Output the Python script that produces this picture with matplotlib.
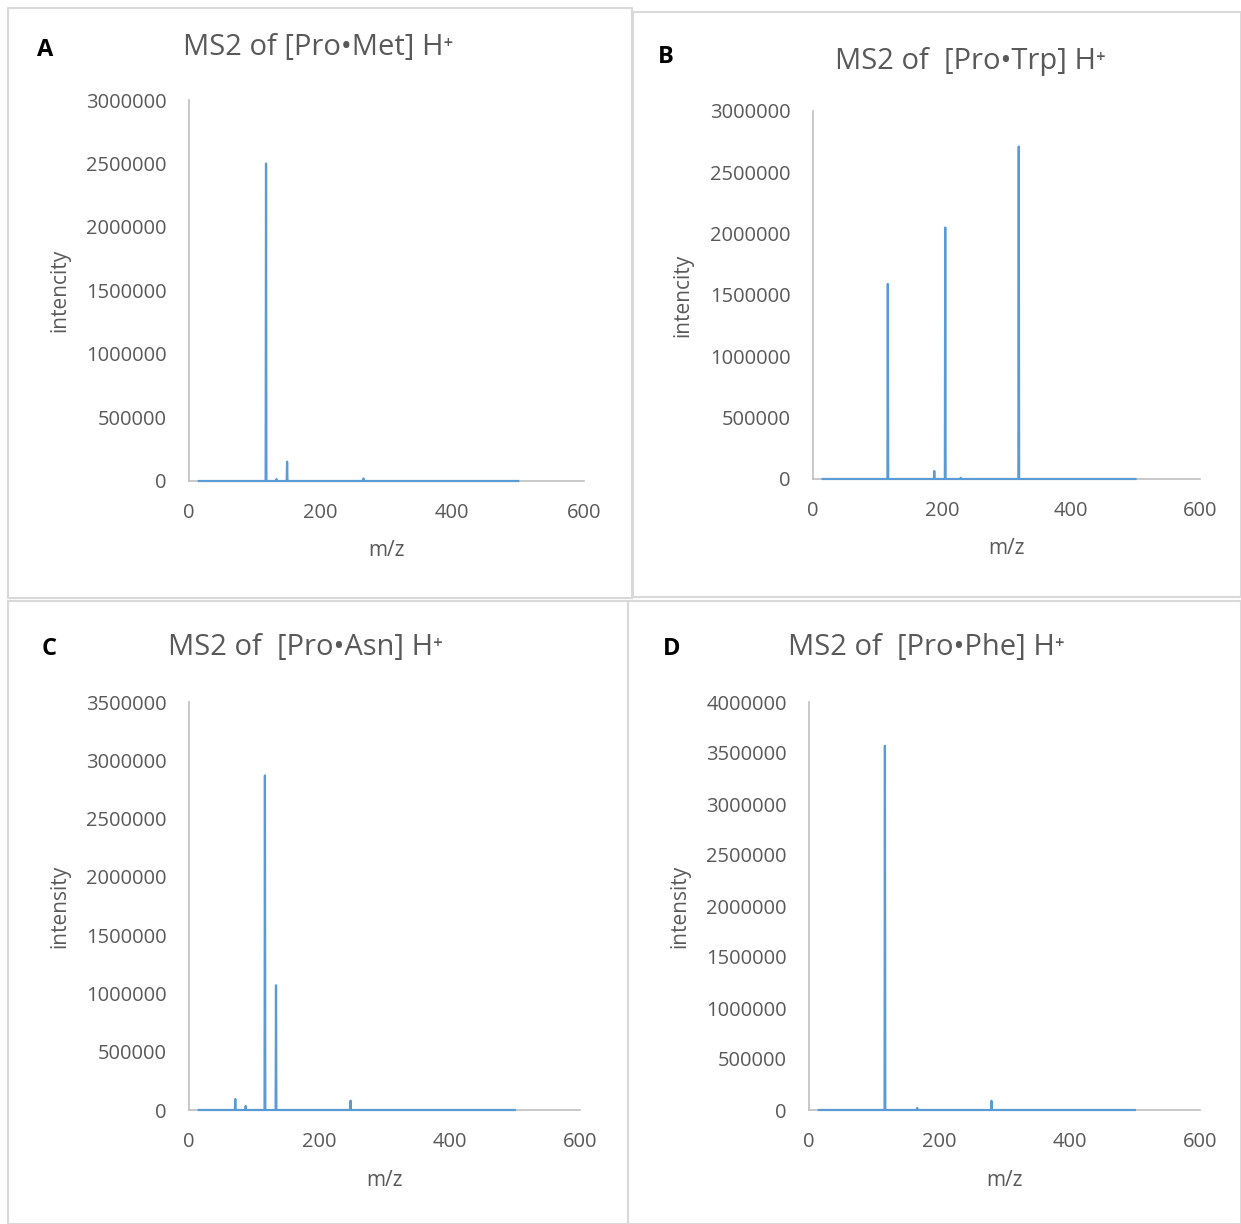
import numpy as np
import matplotlib.pyplot as plt
from matplotlib.patches import Rectangle
from matplotlib.ticker import FuncFormatter

# peak lists (m/z, intensity)
mz_a = [117, 133, 149, 265]
int_a = [2500000, 15000, 152000, 20000]
mz_b = [116, 188, 205, 229, 319]
int_b = [1590000, 65000, 2050000, 10000, 2710000]
mz_c = [71, 87, 116.5, 133.5, 248]
int_c = [94000, 34000, 2870000, 1070000, 80000]
mz_d = [116.5, 166, 280]
int_d = [3570000, 20000, 90000]
scan_range = [15, 500]

titles = ['MS2 of [Pro\u2022Met] H\u207a', 'MS2 of  [Pro\u2022Trp] H\u207a',
          'MS2 of  [Pro\u2022Asn] H\u207a', 'MS2 of  [Pro\u2022Phe] H\u207a']
letters = ['A', 'B', 'C', 'D']
ylabels = ['intencity', 'intencity', 'intensity', 'intensity']
ymax = [3000000, 3000000, 3500000, 4000000]
ystep = [500000, 500000, 500000, 500000]

blue = '#5B9BD5'
grey_txt = '#595959'
fonts = ['Open Sans', 'DejaVu Sans']
plt.rcParams['font.family'] = fonts

W, H = 1241, 1224
fig = plt.figure(figsize=(W / 100, H / 100), dpi=100)


def stick(mz, inten):
    x = [scan_range[0]]
    y = [0]
    for m, h in sorted(zip(mz, inten)):
        x += [m - 0.6, m, m + 0.6]
        y += [0, h, 0]
    x.append(scan_range[1])
    y.append(0)
    return x, y


def px_axes(l, r, t, b):
    return fig.add_axes([l / W, 1 - b / H, (r - l) / W, (b - t) / H])


# panel frames (px): left, top, right, bottom
frames = [(8, 8, 632, 598), (633, 12, 1241, 597), (8, 601, 628, 1224), (628, 601, 1241, 1224)]
for l, t, r, b in frames:
    fig.patches.append(Rectangle((l / W, 1 - b / H), (r - l) / W, (b - t) / H,
                                 transform=fig.transFigure, fill=False,
                                 edgecolor='#D9D9D9', lw=1.5))

boxes = [(189, 584, 100, 481), (813, 1200, 111, 479), (189, 580, 702, 1110), (809, 1200, 702, 1110)]
data = [(mz_a, int_a), (mz_b, int_b), (mz_c, int_c), (mz_d, int_d)]
title_pos = [(183, 48), (835, 62), (168, 648), (788, 648)]
letter_pos = [(45, 50), (666, 57), (49, 649), (672, 649)]
ylab_x = [70, 693, 70, 690]
xlab_y = [550, 548, 1180, 1180]

for i in range(4):
    ax = px_axes(*boxes[i])
    x, y = stick(*data[i])
    ax.plot(x, y, color=blue, lw=1.6, clip_on=False, zorder=3)
    ax.set_xlim(0, 600)
    ax.set_ylim(0, ymax[i])
    ax.set_xticks([0, 200, 400, 600])
    ax.set_yticks(np.arange(0, ymax[i] + 1, ystep[i]))
    ax.yaxis.set_major_formatter(FuncFormatter(lambda v, p: '%d' % v))
    ax.tick_params(length=0, labelsize=14.5, labelcolor=grey_txt, pad=16)
    for s in ['top', 'right']:
        ax.spines[s].set_visible(False)
    for s in ['left', 'bottom']:
        ax.spines[s].set_color('#BFBFBF')
        ax.spines[s].set_linewidth(1.2)
    ax.set_ylabel(ylabels[i], fontsize=15, color=grey_txt)
    ax.yaxis.set_label_coords((ylab_x[i] - boxes[i][0]) / (boxes[i][1] - boxes[i][0]), 0.5)
    cx = (boxes[i][0] + boxes[i][1]) / 2
    fig.text(cx / W, 1 - xlab_y[i] / H, 'm/z', fontsize=15, color=grey_txt, ha='center', va='center')
    tx, ty = title_pos[i]
    fig.text(tx / W, 1 - ty / H, titles[i], fontsize=21, color=grey_txt, ha='left', va='center')
    lx, ly = letter_pos[i]
    fig.text(lx / W, 1 - ly / H, letters[i], fontsize=17, fontweight='bold', color='black',
             ha='center', va='center')

fig.savefig('out.png', dpi=100)
